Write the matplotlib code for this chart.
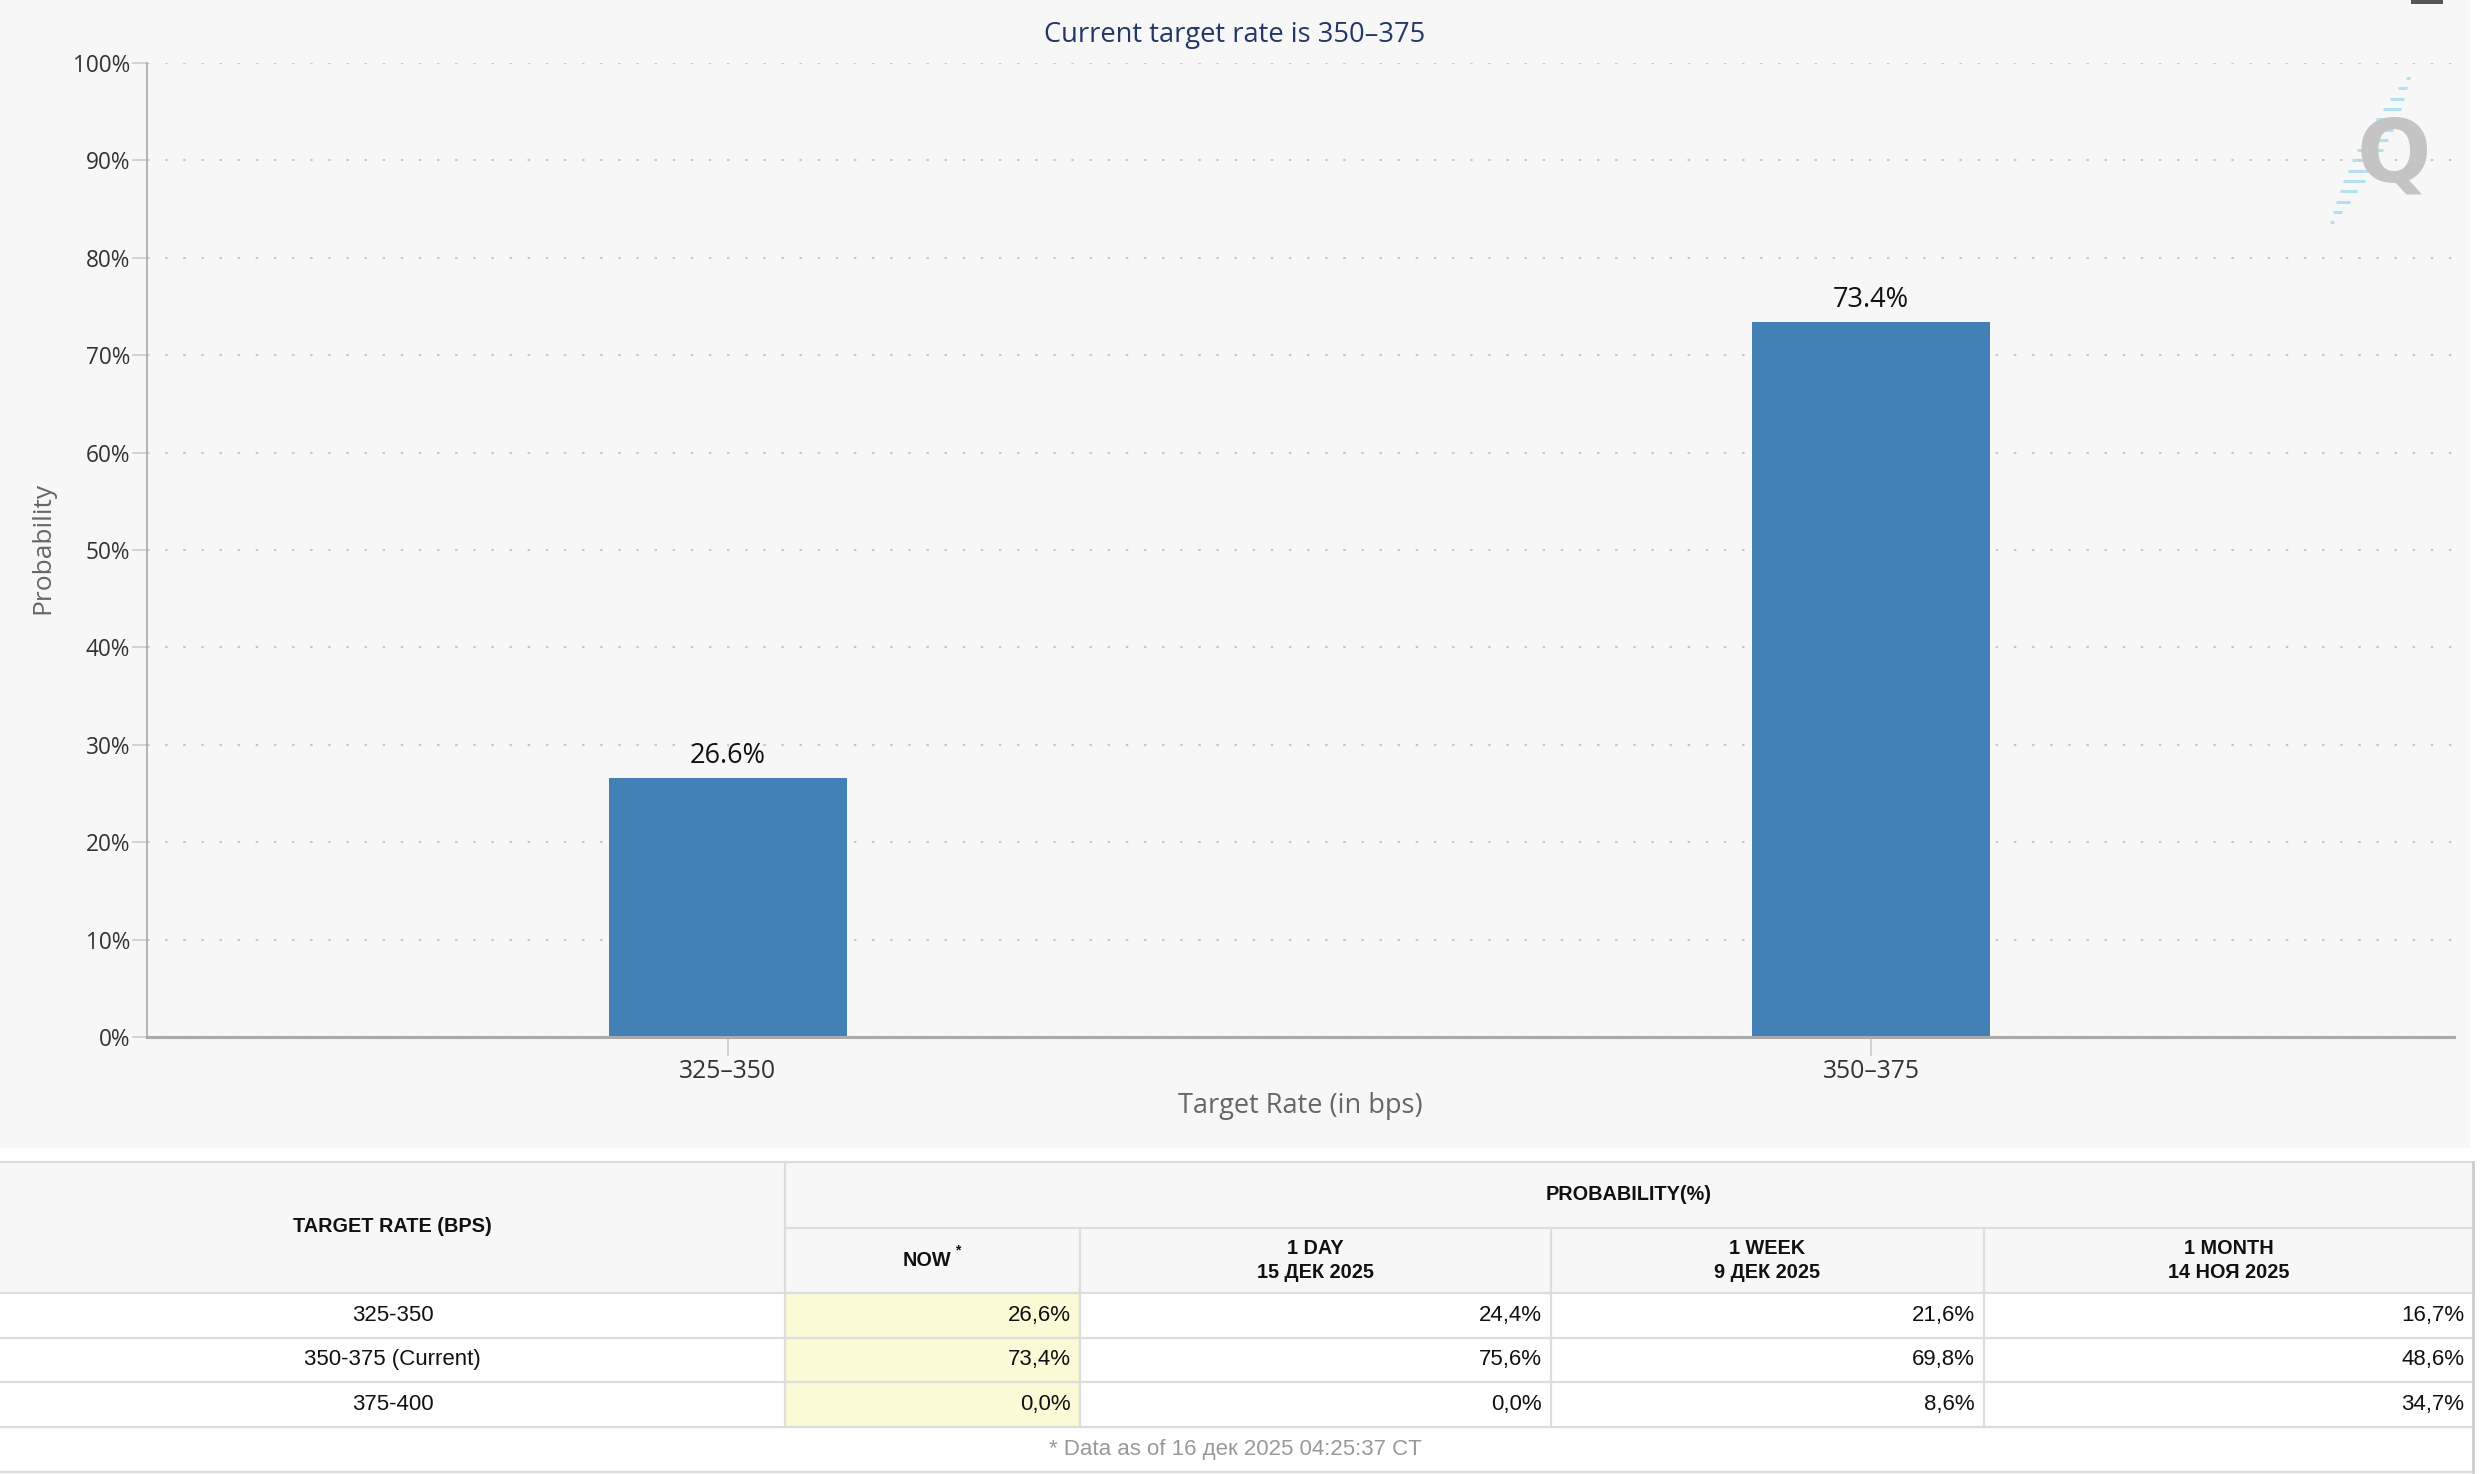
import numpy as np
import matplotlib
matplotlib.use("Agg")
import matplotlib.pyplot as plt
from matplotlib.patches import Rectangle

# ---------------- data ----------------
chart_categories = ["325\u2013350", "350\u2013375"]
chart_values = [26.6, 73.4]
y_ticks = [0, 10, 20, 30, 40, 50, 60, 70, 80, 90, 100]

table_rates = ["325-350", "350-375 (Current)", "375-400"]
prob_now = [26.6, 73.4, 0.0]
prob_1day = [24.4, 75.6, 0.0]
prob_1week = [21.6, 69.8, 8.6]
prob_1month = [16.7, 48.6, 34.7]
col_headers = ["NOW", "1 DAY\n15 \u0414\u0415\u041a 2025", "1 WEEK\n9 \u0414\u0415\u041a 2025",
               "1 MONTH\n14 \u041d\u041e\u042f 2025"]
title_text = "Current target rate is 350\u2013375"
footer_text = "* Data as of 16 \u0434\u0435\u043a 2025 04:25:37 CT"

# ---------------- figure ----------------
W, H = 2482, 1474
fig = plt.figure(figsize=(W / 100, H / 100), dpi=100)
fig.patch.set_facecolor("white")

bg = fig.add_axes([0, 0, 1, 1], zorder=0)
bg.set_xlim(0, W)
bg.set_ylim(H, 0)
bg.axis("off")

# chart panel background
bg.add_patch(Rectangle((0, 0), 2470, 1148, facecolor="#f7f7f7", edgecolor="none"))
bg.add_patch(Rectangle((2411, 0), 32, 4, facecolor="#555555", edgecolor="none"))

CHART_FONT = ["Open Sans", "DejaVu Sans"]
TABLE_FONT = ["Liberation Sans", "DejaVu Sans"]

ax = fig.add_axes([147 / W, 1 - 1037 / H, (2454 - 147) / W, (1037 - 63) / H], zorder=2)
ax.set_facecolor("none")
x = np.arange(len(chart_categories))
bars = ax.bar(x, chart_values, width=0.208, color="#4380b5", zorder=3)
ax.set_xlim(-0.508, len(chart_categories) - 0.49)
ax.set_ylim(0, 100)
ax.set_yticks(y_ticks)
ax.set_yticklabels([f"{v}%" for v in y_ticks], fontsize=16.3, color="#333333", family=CHART_FONT)
ax.set_xticks(x)
ax.set_xticklabels(chart_categories, fontsize=17.8, color="#333333", family=CHART_FONT)
ax.tick_params(axis="y", length=11, width=1.2, color="#cccccc", pad=1)
ax.tick_params(axis="x", length=14, width=1.2, color="#cccccc", pad=2)
ax.yaxis.grid(True, color="#c8c8c8", linewidth=1.5, linestyle=(0, (1.2, 7.5)), zorder=1)
ax.set_axisbelow(True)
for s in ["top", "right"]:
    ax.spines[s].set_visible(False)
ax.spines["left"].set_color("#aaaaaa")
ax.spines["left"].set_linewidth(1.2)
ax.spines["bottom"].set_color("#aaaaaa")
ax.spines["bottom"].set_linewidth(2.2)
ax.spines["bottom"].set_zorder(4)

for xi, v in zip(x, chart_values):
    ax.annotate(f"{v:.1f}%", (xi, v), xytext=(0, 6), textcoords="offset points",
                ha="center", va="bottom", fontsize=19.5, color="#111111", family=CHART_FONT)

fig.text(1235 / W, 1 - 35 / H, title_text, ha="center", va="center", fontsize=19.6,
         color="#253766", family=CHART_FONT)
fig.text(43 / W, 1 - 548 / H, "Probability", rotation=90, ha="center", va="center",
         fontsize=19, color="#666666", family=CHART_FONT)
fig.text(1300 / W, 1 - 1106 / H, "Target Rate (in bps)", ha="center", va="center",
         fontsize=19.5, color="#666666", family=CHART_FONT)

# watermark logo
for k in range(15):
    yy = 78 + k * 10.3
    xc = 2408 - (yy - 78) * 76 / 145
    ln = 4 + 22 * np.sin(np.pi * k / 14)
    bg.plot([xc - ln / 2, xc + ln / 2], [yy, yy], color="#b5e0ef", lw=2.2,
            solid_capstyle="butt", zorder=1)
bg.text(2394, 157, "Q", ha="center", va="center", fontsize=63, fontweight="bold",
        color="#c4c4c4", family=["DejaVu Sans"], zorder=2)

# ---------------- table ----------------
col_x = [0, 785, 1080, 1551, 1984, 2473]
y_top, y_split, y_head = 1162, 1228, 1293
row_y = [1293, 1338, 1382, 1427]
y_bottom = 1472
line_c = "#dddddd"
lw = 1.6

bg.add_patch(Rectangle((0, y_top), col_x[-1], y_head - y_top, facecolor="#f7f7f7",
                       edgecolor="none"))
bg.add_patch(Rectangle((col_x[1], row_y[0]), col_x[2] - col_x[1], row_y[-1] - row_y[0],
                       facecolor="#fafad7", edgecolor="none"))

bg.plot([0, col_x[-1]], [y_top, y_top], color=line_c, lw=lw)
bg.plot([col_x[1], col_x[-1]], [y_split, y_split], color=line_c, lw=lw)
for yy in row_y + [y_bottom]:
    bg.plot([0, col_x[-1]], [yy, yy], color=line_c, lw=lw)
bg.plot([col_x[1], col_x[1]], [y_top, row_y[-1]], color=line_c, lw=lw)
for cx in col_x[2:-1]:
    bg.plot([cx, cx], [y_split, row_y[-1]], color=line_c, lw=lw)
bg.plot([col_x[-1], col_x[-1]], [y_top, y_bottom], color="#cccccc", lw=2)

hdr_kw = dict(fontsize=14.3, fontweight="bold", color="#111111", family=TABLE_FONT)
bg.text((col_x[0] + col_x[1]) / 2, 1227, "TARGET RATE (BPS)", ha="center", va="center", **hdr_kw)
bg.text((col_x[1] + col_x[-1]) / 2, 1195, "PROBABILITY(%)", ha="center", va="center", **hdr_kw)

for i, h in enumerate(col_headers):
    cxm = (col_x[i + 1] + col_x[i + 2]) / 2
    lines = h.split("\n")
    if len(lines) == 1:
        bg.text(cxm - 6, 1260, lines[0], ha="center", va="center", **hdr_kw)
        bg.text(cxm + 23, 1250, "*", ha="left", va="center", fontsize=10,
                fontweight="bold", color="#111111", family=TABLE_FONT)
    else:
        bg.text(cxm, 1248, lines[0], ha="center", va="center", **hdr_kw)
        bg.text(cxm, 1273, lines[1], ha="center", va="center", **hdr_kw)

body_kw = dict(fontsize=16, color="#111111", family=TABLE_FONT)
cols = [prob_now, prob_1day, prob_1week, prob_1month]
for r, rate in enumerate(table_rates):
    ym = (row_y[r] + row_y[r + 1]) / 2
    bg.text((col_x[0] + col_x[1]) / 2, ym, rate, ha="center", va="center", **body_kw)
    for c, series in enumerate(cols):
        txt = f"{series[r]:.1f}%".replace(".", ",")
        bg.text(col_x[c + 2] - 9, ym, txt, ha="right", va="center", **body_kw)

bg.text(1235, (row_y[-1] + y_bottom) / 2, footer_text, ha="center", va="center",
        fontsize=16, color="#999999", family=TABLE_FONT)

fig.savefig("out.png", dpi=100)
